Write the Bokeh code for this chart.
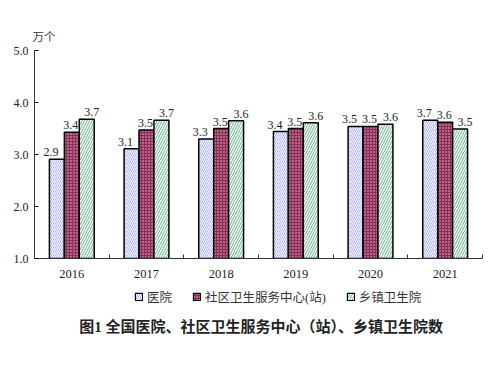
from bokeh.plotting import figure
from bokeh.layouts import column
from bokeh.models import (ColumnDataSource, FixedTicker, Range1d, Legend, LegendItem,
                          Title, Label, NumeralTickFormatter, LabelSet)
from bokeh.embed import file_html
from bokeh.resources import INLINE

years = ["2016", "2017", "2018", "2019", "2020", "2021"]
hospital = [2.91, 3.11, 3.30, 3.44, 3.54, 3.66]
community = [3.43, 3.47, 3.50, 3.50, 3.54, 3.62]
township = [3.68, 3.66, 3.65, 3.61, 3.58, 3.49]
series_names = ["医院", "社区卫生服务中心(站)", "乡镇卫生院"]
y_ticks = [1.0, 2.0, 3.0, 4.0, 5.0]
chart_title = "图1  全国医院、社区卫生服务中心（站）、乡镇卫生院数"
unit_label = "万个"

SERIF = "Liberation Serif, Noto Sans CJK SC"

p = figure(width=484, frame_width=448, frame_height=208, output_backend="svg", toolbar_location=None,
           x_range=Range1d(0, 6), y_range=Range1d(1, 5),
           min_border_left=34, min_border_right=2, min_border_top=50, min_border_bottom=24)
p.outline_line_color = None
p.xgrid.visible = False
p.ygrid.visible = False

centers = [i + 0.5 for i in range(len(years))]
bw = 0.2
offsets = [-bw, 0, bw]
label_shift = [-6, -1, 5]
styles = [
    dict(fill_color="white", hatch_pattern="\\", hatch_color="#aeb3f4", hatch_scale=4, hatch_weight=1),
    dict(fill_color="#8e2b57", hatch_pattern=".", hatch_color="#eec3d5", hatch_scale=3, hatch_weight=1),
    dict(fill_color="white", hatch_pattern="/", hatch_color="#62b387", hatch_scale=5, hatch_weight=1),
]
for vals, off, st, sh in zip([hospital, community, township], offsets, styles, label_shift):
    src = ColumnDataSource(dict(x=[c + off for c in centers], top=vals,
                                lab=[f"{v:.1f}" for v in vals]))
    p.vbar(x="x", top="top", bottom=1, width=bw, source=src,
           line_color="black", line_width=1.5, **st)
    p.add_layout(LabelSet(x="x", y="top", text="lab", source=src, y_offset=3, x_offset=sh,
                          text_align="center", text_baseline="bottom",
                          text_font=SERIF, text_font_size="12px", text_color="#222222"))

# axes
p.yaxis.ticker = FixedTicker(ticks=y_ticks)
p.yaxis.formatter = NumeralTickFormatter(format="0.0")
p.yaxis.major_label_text_font = SERIF
p.yaxis.major_label_text_font_size = "12px"
p.yaxis.major_label_text_color = "#222222"
p.yaxis.axis_line_color = "#333333"
p.yaxis.major_tick_in = 4
p.yaxis.major_tick_out = 0
p.yaxis.minor_tick_line_color = None
p.yaxis.major_label_standoff = 6

p.xaxis.ticker = FixedTicker(ticks=centers, minor_ticks=[1, 2, 3, 4, 5, 6])
p.xaxis.major_label_overrides = {c: y for c, y in zip(centers, years)}
p.xaxis.major_tick_line_color = None
p.xaxis.minor_tick_in = 4
p.xaxis.minor_tick_out = 0
p.xaxis.minor_tick_line_color = "#333333"
p.xaxis.axis_line_color = "#333333"
p.xaxis.major_label_text_font = SERIF
p.xaxis.major_label_text_font_size = "12.5px"
p.xaxis.major_label_text_color = "#222222"
p.xaxis.major_label_standoff = 5

p.add_layout(Title(text=unit_label, align="left", offset=-2, standoff=16,
                   text_font=SERIF, text_font_size="11.5px", text_font_style="normal",
                   text_color="#333333"), "above")

# second figure: legend and caption
p2 = figure(width=484, height=84, output_backend="svg", toolbar_location=None,
            x_range=Range1d(0, 1), y_range=Range1d(0, 1),
            min_border_left=0, min_border_right=0, min_border_top=0, min_border_bottom=0)
p2.axis.visible = False
p2.grid.visible = False
p2.outline_line_color = None
dummies = []
for st in styles:
    r = p2.vbar(x=[-5], top=[-5], bottom=-6, width=0.1, line_color="black", line_width=1.2, **st)
    dummies.append(r)

legend = Legend(items=[LegendItem(label=n, renderers=[r]) for n, r in zip(series_names, dummies)],
                orientation="horizontal", location=(100, 60), border_line_color=None,
                background_fill_alpha=0,
                label_text_font=SERIF, label_text_font_size="12.5px", label_text_color="#333333",
                glyph_width=9, glyph_height=9, spacing=20, label_standoff=4, padding=2, margin=0)
p2.add_layout(legend, "center")

p2.add_layout(Label(x=0.51, y=0.475, text=chart_title, text_align="center", text_baseline="middle",
                    text_font=SERIF, text_font_size="15px", text_font_style="bold",
                    text_color="#222222"))

open("out.html", "w").write(file_html(column(p, p2, spacing=0), INLINE))
